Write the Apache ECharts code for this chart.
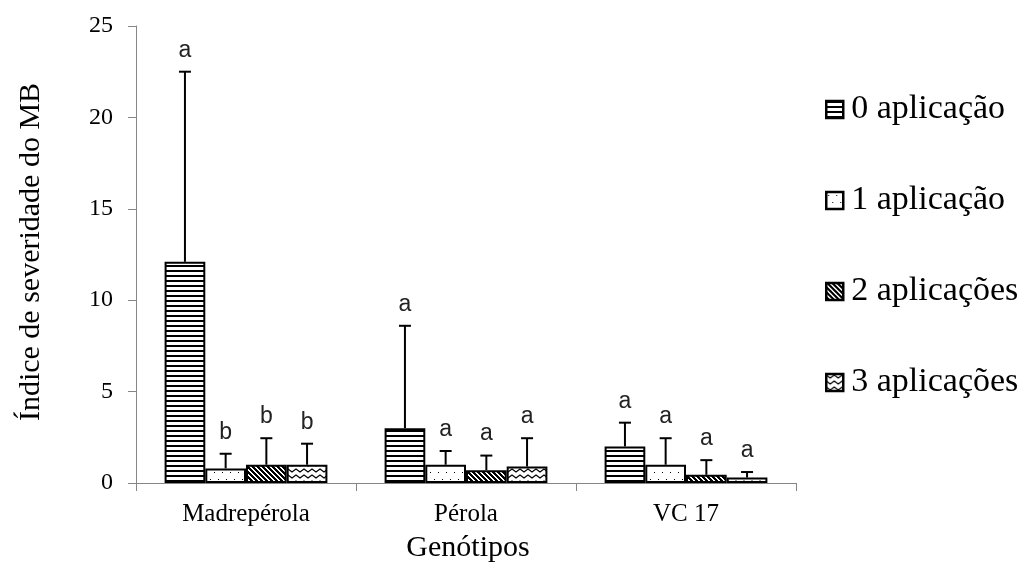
<!DOCTYPE html>
<html><head><meta charset="utf-8">
<script src="https://cdn.jsdelivr.net/npm/echarts@6/dist/echarts.min.js"></script>
<style>html,body{margin:0;padding:0;background:#fff}#c{width:1030px;height:570px}</style>
</head><body><div id="c"></div>
<script>
// ---- data ----
const categories = ['Madrepérola', 'Pérola', 'VC 17'];
const seriesNames = ['0 aplicação', '1 aplicação', '2 aplicações', '3 aplicações'];
const mean0 = [12.1, 3.0, 2.0];
const mean1 = [0.8, 1.0, 1.0];
const mean2 = [1.0, 0.7, 0.45];
const mean3 = [1.0, 0.9, 0.3];
const sd0 = [10.4, 5.6, 1.3];
const sd1 = [0.8, 0.75, 1.45];
const sd2 = [1.45, 0.8, 0.8];
const sd3 = [1.15, 1.55, 0.3];
const letters0 = ['a', 'a', 'a'];
const letters1 = ['b', 'a', 'a'];
const letters2 = ['b', 'a', 'a'];
const letters3 = ['b', 'a', 'a'];
const yTicks = [0, 5, 10, 15, 20, 25];
const xTitle = 'Genótipos';
const yTitle = 'Índice de severidade do MB';

const means = [mean0, mean1, mean2, mean3];
const sds = [sd0, sd1, sd2, sd3];
const letters = [letters0, letters1, letters2, letters3];

// ---- patterns ----
function mk(w, h, draw) {
  const c = document.createElement('canvas'); c.width = w; c.height = h;
  const g = c.getContext('2d'); g.fillStyle = '#fff'; g.fillRect(0, 0, w, h);
  g.fillStyle = '#000'; g.strokeStyle = '#000'; draw(g); return c;
}
const pat0 = mk(5, 5, g => { g.fillRect(0, 0, 5, 2); });
const pat1 = mk(8, 14, g => { g.fillRect(2, 3, 1, 1); g.fillRect(6, 10, 1, 1); });
const pat2 = mk(5, 5, g => { for (let y = 0; y < 5; y++) for (let k = 0; k < 3; k++) g.fillRect((y + k) % 5, y, 1, 1); });
const pat3 = mk(8, 6, g => { g.lineWidth = 1.3; g.beginPath(); g.moveTo(-4, 4); g.lineTo(0, 1); g.lineTo(4, 4); g.lineTo(8, 1); g.lineTo(12, 4); g.stroke(); });
const pats = [pat0, pat1, pat2, pat3];

const GAP = 0.26;
const serif = '"Liberation Serif", "Times New Roman", serif';

const series = [];
seriesNames.forEach((nm, i) => {
  series.push({
    name: nm, type: 'bar', data: means[i], barGap: '0%', barCategoryGap: (GAP * 100) + '%',
    itemStyle: { color: { image: pats[i], repeat: 'repeat' }, borderColor: '#000', borderWidth: 2 },
    emphasis: { disabled: true }, z: 2
  });
});
seriesNames.forEach((nm, i) => {
  series.push({
    type: 'custom', z: 5, silent: true,
    data: means[i].map((m, ci) => [ci, m, m + sds[i][ci]]),
    renderItem: (params, api) => {
      const ci = api.value(0), v = api.value(1), up = api.value(2);
      const base = api.coord([ci, v]);
      const top = api.coord([ci, up]);
      const band = api.size([1, 0])[0];
      const bw = band * (1 - GAP) / 4;
      const x = base[0] + (i - 1.5) * bw;
      return { type: 'group', children: [
        { type: 'line', shape: { x1: x, y1: base[1], x2: x, y2: top[1] }, style: { stroke: '#000', lineWidth: 2 } },
        { type: 'line', shape: { x1: x - 6, y1: top[1], x2: x + 6, y2: top[1] }, style: { stroke: '#000', lineWidth: 2 } },
        { type: 'text', x: x, y: top[1] - 10, style: { text: letters[i][params.dataIndex], align: 'center', verticalAlign: 'bottom', font: '23px "Liberation Sans", Arial, sans-serif', fill: '#222' } }
      ]};
    }
  });
});

const chart = echarts.init(document.getElementById('c'));
chart.setOption({
  animation: false,
  backgroundColor: '#fff',
  grid: { left: 136, right: 234, top: 26, bottom: 87 },
  xAxis: {
    type: 'category', data: categories,
    axisLine: { lineStyle: { color: '#868686', width: 1 } },
    axisTick: { show: true, length: 8, lineStyle: { color: '#868686' } },
    axisLabel: { fontFamily: serif, fontSize: 25, color: '#000', margin: 19 }
  },
  yAxis: {
    type: 'value', min: yTicks[0], max: yTicks[yTicks.length - 1], interval: yTicks[1] - yTicks[0],
    splitLine: { show: false },
    axisLine: { show: true, lineStyle: { color: '#868686', width: 1 } },
    axisTick: { show: true, length: 8, lineStyle: { color: '#868686' } },
    axisLabel: { fontFamily: serif, fontSize: 24, color: '#000', margin: 23 }
  },
  legend: {
    data: seriesNames, orient: 'vertical', left: 825, top: 91, padding: 0, icon: 'rect',
    itemWidth: 17, itemHeight: 17, itemGap: 54,
    itemStyle: { borderColor: '#000', borderWidth: 2.5 },
    textStyle: { fontFamily: serif, fontSize: 34, color: '#000', lineHeight: 37, padding: [0, 0, 0, 3] },
    selectedMode: false
  },
  graphic: [
    { type: 'text', x: 31, y: 252, rotation: Math.PI / 2, style: { text: yTitle, font: '30px ' + serif, fill: '#000', align: 'center', verticalAlign: 'middle' } },
    { type: 'text', x: 468, y: 548, style: { text: xTitle, font: '30px ' + serif, fill: '#000', align: 'center', verticalAlign: 'middle' } }
  ],
  series: series
});
</script></body></html>
